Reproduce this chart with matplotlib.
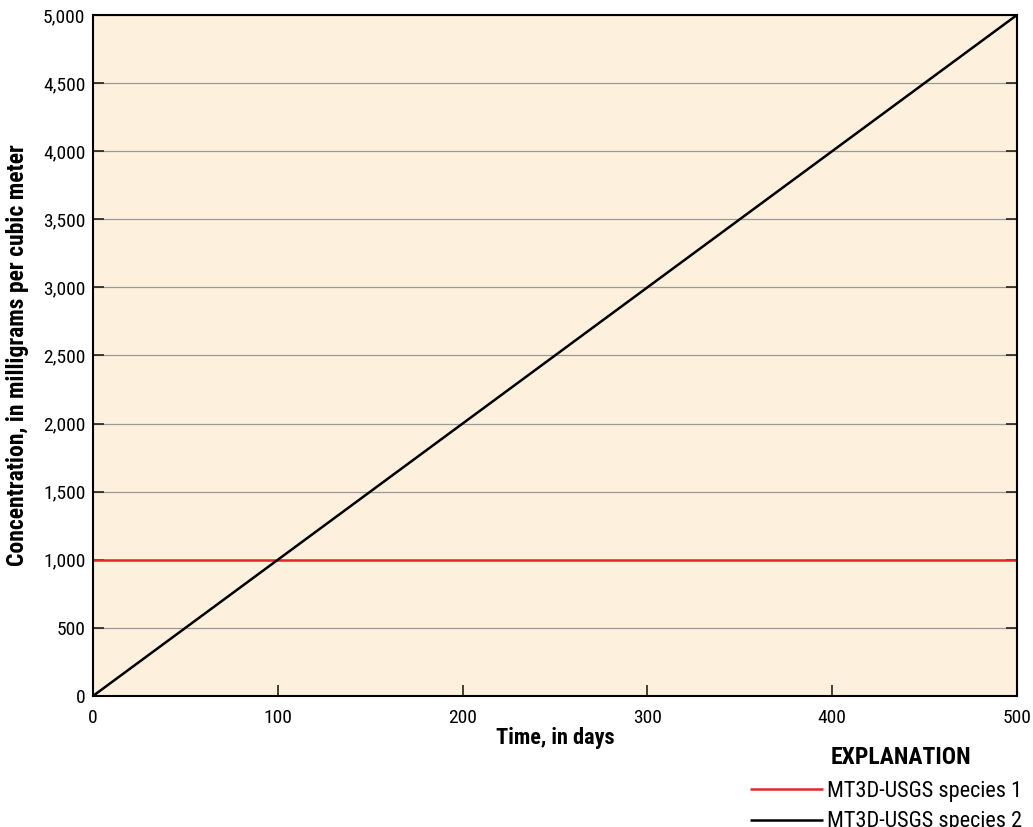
import matplotlib
matplotlib.use("Agg")
import matplotlib.pyplot as plt
from matplotlib import font_manager
from matplotlib.ticker import FuncFormatter, MultipleLocator

# Simulated concentrations
time_days = [0, 100, 200, 300, 400, 500]
species1 = [1000, 1000, 1000, 1000, 1000, 1000]
species2 = [0, 1000, 2000, 3000, 4000, 5000]
series_labels = ["MT3D-USGS species 1", "MT3D-USGS species 2"]
series_colors = ["#e8262b", "#000000"]

# Prefer a condensed sans face when one is installed
available = sorted({(f.name, f.stretch) for f in font_manager.fontManager.ttflist})
names = {n for n, _ in available}
family = None
for cand in ["Roboto Condensed", "Liberation Sans Narrow", "Open Sans Condensed",
             "Noto Sans Condensed", "Noto Sans SemiCondensed", "Arial Narrow"]:
    if cand in names:
        family = cand
        break
if family is None:
    condensed = [n for n, s in available
                 if str(s) in ("condensed", "semi-condensed", "extra-condensed", "500", "600", "700")
                 and "Mono" not in n and "Serif" not in n and "CJK" not in n]
    family = condensed[0] if condensed else "Roboto"
plt.rcParams["font.family"] = [family, "DejaVu Sans"]

fig = plt.figure(figsize=(10.33, 8.27), dpi=100)
ax = fig.add_axes([0.0900, 0.1584, 0.8945, 0.8235])
ax.set_facecolor("#fdf0dc")

ax.set_xlim(0, 500)
ax.set_ylim(0, 5000)
ax.xaxis.set_major_locator(MultipleLocator(100))
ax.yaxis.set_major_locator(MultipleLocator(500))
ax.yaxis.set_major_formatter(FuncFormatter(lambda v, p: f"{int(v):,}"))

ax.grid(axis="y", color="#9a9a9a", linewidth=0.9)
ax.set_axisbelow(True)

lines = []
for vals, lab, col in zip([species1, species2], series_labels, series_colors):
    ln, = ax.plot(time_days, vals, color=col, linewidth=1.8, label=lab,
                  solid_capstyle="butt", clip_on=False)
    lines.append(ln)

for s in ax.spines.values():
    s.set_linewidth(1.5)
    s.set_color("black")

ax.tick_params(axis="both", direction="in", length=8, width=1.2,
               labelsize=14, color="#222222")
ax.tick_params(axis="y", right=True, pad=5.5)
ax.tick_params(axis="x", pad=9)

ax.set_xlabel("Time, in days", fontsize=16, fontweight="bold", labelpad=0)
ax.set_ylabel("Concentration, in milligrams per cubic meter", fontsize=17,
              fontweight="bold", labelpad=10)

fig.text(901 / 1033, 1 - 758 / 827, "EXPLANATION", fontsize=17,
         fontweight="bold", ha="center", va="center")

leg = fig.legend(handles=lines, loc="upper left",
                 bbox_to_anchor=(750 / 1033, 1 - 781 / 827), frameon=False,
                 fontsize=16, handlelength=3.3, handletextpad=0.18,
                 labelspacing=0.42, borderaxespad=0, borderpad=0)

fig.savefig("out.png", dpi=100)
